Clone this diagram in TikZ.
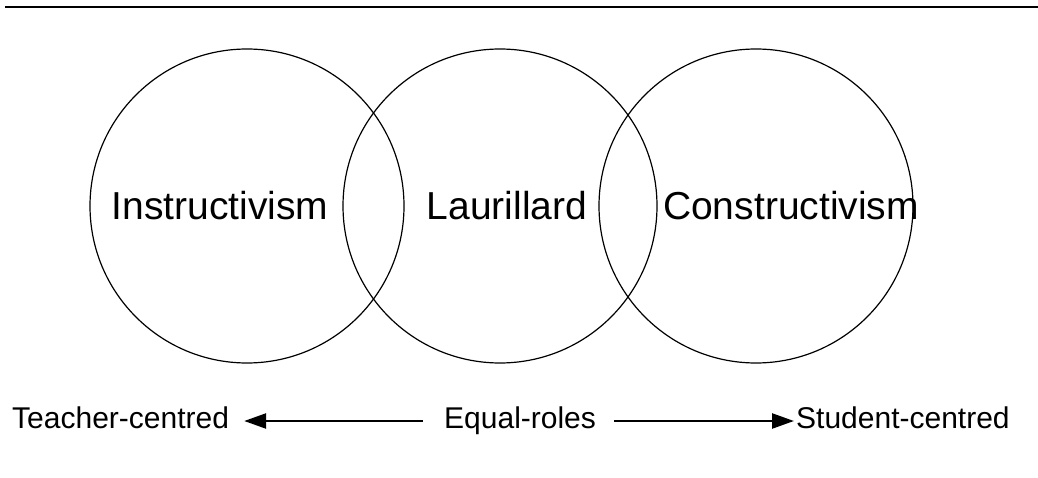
\documentclass[tikz,border=0pt]{standalone}
\usepackage{fontspec}
\setmainfont{Liberation Sans}
\usetikzlibrary{arrows.meta}

\tikzset{
  ring/.style={draw, circle, line width=1.2pt, minimum size=314pt, inner sep=0pt},
  school/.style={font=\fontsize{39}{47}\selectfont, inner sep=0pt},
  pole/.style={font=\fontsize{30}{36}\selectfont, inner sep=0pt, text height=14pt, text depth=0pt, anchor=west},
  pointer/.style={-{Triangle[length=22pt,width=15pt]}, line width=2.4pt},
}

\begin{document}
\begin{tikzpicture}[x=1pt,y=-1pt]
  \useasboundingbox (0,0) rectangle (1038,478);
  % Rule at the top
  \draw[line width=1.8pt] (5,7) -- (1038,7);
  % Three overlapping circles
  \node[ring] (instr) at (247,206) {};
  \node[ring] (laur) at (500,206) {};
  \node[ring] (constr) at (756,206) {};
  % Circle labels
  \node[school] (instrtext) at (220,206) {Instructivism};
  \node[school] (laurtext) at (507,206) {Laurillard};
  \node[school] (constrtext) at (791,206) {Constructivism};
  % Scale along the bottom
  \node[pole] (teacher) at (12,421) {Teacher-centred};
  \node[pole] (equal) at (444,421) {Equal-roles};
  \node[pole] (student) at (796,421) {Student-centred};
  \draw[pointer, shorten <=21pt, shorten >=15pt] (equal.west) -- (teacher.east);
  \draw[pointer, shorten <=18pt, shorten >=2pt] (equal.east) -- (student.west);
\end{tikzpicture}
\end{document}
